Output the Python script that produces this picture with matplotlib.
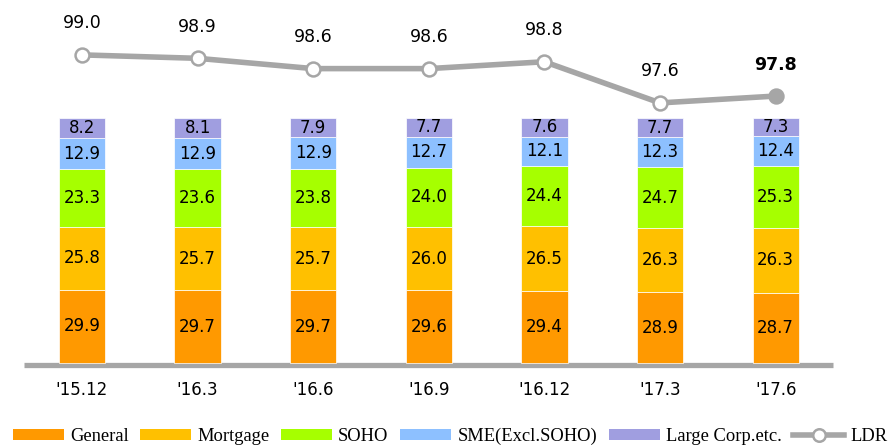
import matplotlib
matplotlib.use("Agg")
import matplotlib.pyplot as plt
from matplotlib.patches import Patch
from matplotlib.lines import Line2D

periods = ["'15.12", "'16.3", "'16.6", "'16.9", "'16.12", "'17.3", "'17.6"]
general = [29.9, 29.7, 29.7, 29.6, 29.4, 28.9, 28.7]
mortgage = [25.8, 25.7, 25.7, 26.0, 26.5, 26.3, 26.3]
soho = [23.3, 23.6, 23.8, 24.0, 24.4, 24.7, 25.3]
sme = [12.9, 12.9, 12.9, 12.7, 12.1, 12.3, 12.4]
large = [8.2, 8.1, 7.9, 7.7, 7.6, 7.7, 7.3]
ldr = [99.0, 98.9, 98.6, 98.6, 98.8, 97.6, 97.8]

series = [("General", general, "#FF9900"),
          ("Mortgage", mortgage, "#FFC000"),
          ("SOHO", soho, "#A6FF00"),
          ("SME(Excl.SOHO)", sme, "#8DC0FF"),
          ("Large Corp.etc.", large, "#A09EE0")]
line_color = "#A6A6A6"
font = "DejaVu Sans"

fig = plt.figure(figsize=(8.91, 4.47), dpi=100)
ax = fig.add_axes([0, 0, 1, 1])
ax.set_xlim(-0.7093, 6.998)
ax.set_ylim(-34.3, 148.2)
ax.axis("off")

x = list(range(len(periods)))
bottom = [0.0] * len(x)
for name, vals, color in series:
    bc = ax.bar(x, vals, width=0.40, bottom=bottom, color=color,
                edgecolor="white", linewidth=0.5, zorder=3)
    ax.bar_label(bc, labels=[f"{v:.1f}" for v in vals], label_type="center",
                 fontsize=12, family=font, color="black", zorder=4)
    bottom = [b + v for b, v in zip(bottom, vals)]

ax.plot([-0.5, 6.5], [-1.0, -1.0], color=line_color, lw=3.8,
        solid_capstyle="butt", zorder=2)
for xi, lab in zip(x, periods):
    ax.text(xi, -11.0, lab, ha="center", va="center", fontsize=12,
            family=font, color="black")

ax2 = fig.add_axes([0, 0, 1, 1], sharex=ax)
ax2.set_ylim(87.57, 100.6)
ax2.axis("off")
ax2.patch.set_alpha(0)
ax2.plot(x, ldr, color=line_color, lw=4, zorder=5)
ax2.plot(x[:-1], ldr[:-1], ls="none", marker="o", ms=10, mfc="white",
         mec=line_color, mew=1.8, zorder=6)
ax2.plot(x[-1:], ldr[-1:], ls="none", marker="o", ms=10, mfc=line_color,
         mec=line_color, mew=1.8, zorder=6)
for i, (xi, v) in enumerate(zip(x, ldr)):
    ax2.annotate(f"{v:.1f}", (xi, v), xytext=(0, 22.7), textcoords="offset points",
                 ha="center", va="center", fontsize=12.5, family=font,
                 fontweight="bold" if i == len(x) - 1 else "normal")

handles = [Patch(facecolor=c, edgecolor="none", label=n) for n, _, c in series]
handles.append(Line2D([0], [0], color=line_color, lw=4, marker="o", ms=9,
                      mfc="white", mec=line_color, mew=1.8, label="LDR"))
fig.legend(handles=handles, loc="center left", bbox_to_anchor=(13 / 891, 1 - 436 / 447),
           ncol=6, frameon=False, prop={"family": "Liberation Serif", "size": 13.3},
           handlelength=2.76, handleheight=0.54, handletextpad=0.32,
           columnspacing=0.64, borderaxespad=0, borderpad=0)

fig.savefig("out.png", dpi=100)
